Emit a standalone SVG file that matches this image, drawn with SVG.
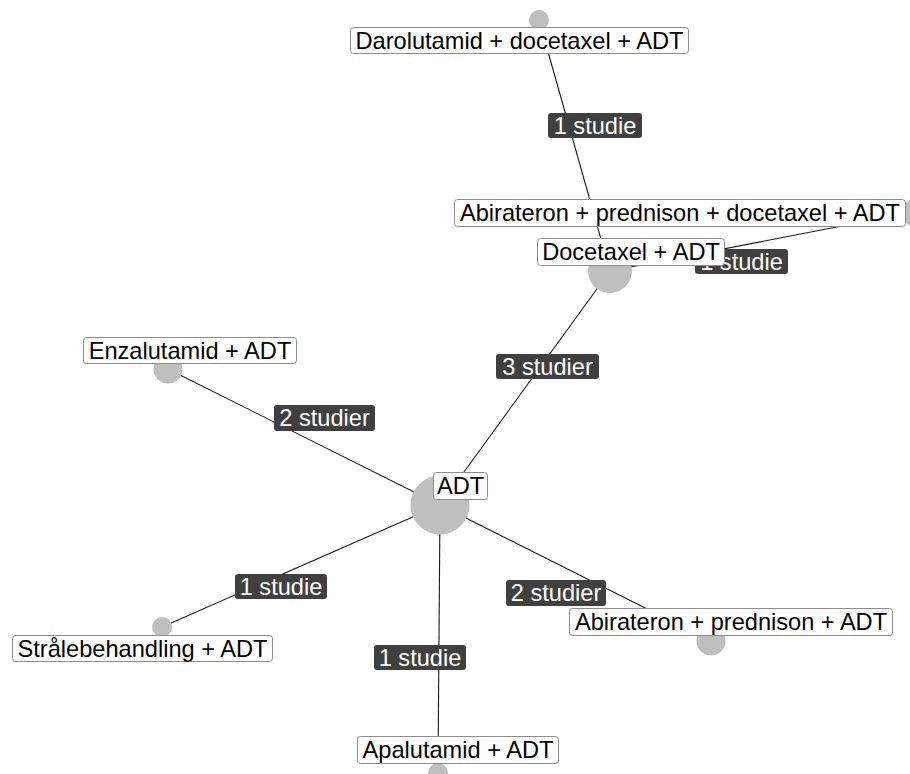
<svg xmlns="http://www.w3.org/2000/svg" width="910" height="774" viewBox="0 0 910 774">
<style>
  .edge { stroke: #1a1a1a; stroke-width: 1.1; fill: none; }
  .elbox { fill: #404040; }
  .eltext { fill: #ffffff; font-family: "Liberation Sans", Arial, sans-serif; font-size: 23.6px; text-anchor: middle; }
  .node { fill: #bfbfbf; }
  .nlbox { fill: #ffffff; stroke: #8c8c8c; stroke-width: 1; }
  .nltext { fill: #000000; font-family: "Liberation Sans", Arial, sans-serif; font-size: 23.6px; text-anchor: middle; }
</style>
<rect width="910" height="774" fill="#ffffff"/>
<g id="connectors">
  <line class="edge" x1="539" y1="20" x2="610" y2="271"/>
  <line class="edge" x1="610" y1="271" x2="914" y2="212"/>
  <line class="edge" x1="440" y1="505" x2="610" y2="271"/>
  <line class="edge" x1="440" y1="505" x2="168" y2="369"/>
  <line class="edge" x1="440" y1="505" x2="162" y2="627"/>
  <line class="edge" x1="440" y1="505" x2="438" y2="772"/>
  <line class="edge" x1="440" y1="505" x2="711" y2="641"/>
  <g id="el-daro-doc"><rect class="elbox" x="548" y="113" width="94" height="25" rx="3"/><text class="eltext" x="595" y="133.5">1 studie</text></g>
  <g id="el-doc-apd"><rect class="elbox" x="695" y="249" width="93" height="25" rx="3"/><text class="eltext" x="741.5" y="269.5">1 studie</text></g>
  <g id="el-adt-doc"><rect class="elbox" x="496" y="354" width="103" height="25" rx="3"/><text class="eltext" x="547.5" y="374.5">3 studier</text></g>
  <g id="el-adt-enza"><rect class="elbox" x="274" y="405" width="101" height="26" rx="3"/><text class="eltext" x="324.5" y="426">2 studier</text></g>
  <g id="el-adt-stral"><rect class="elbox" x="235" y="574" width="92" height="25" rx="3"/><text class="eltext" x="281" y="594.5">1 studie</text></g>
  <g id="el-adt-apal"><rect class="elbox" x="374" y="645" width="92" height="25" rx="3"/><text class="eltext" x="420" y="665.5">1 studie</text></g>
  <g id="el-adt-abipred"><rect class="elbox" x="506" y="580" width="100" height="26" rx="3"/><text class="eltext" x="556" y="601">2 studier</text></g>
</g>
<g id="node-darolutamid">
  <circle class="node" cx="539" cy="20" r="10"/>
  <rect class="nlbox" x="350.5" y="27.5" width="338" height="26" rx="3"/>
  <text class="nltext" x="519.5" y="48.5">Darolutamid + docetaxel + ADT</text>
</g>
<g id="node-abipreddoc">
  <circle class="node" cx="914" cy="213" r="13"/>
  <rect class="nlbox" x="454.5" y="199.5" width="451" height="27" rx="3"/>
  <text class="nltext" x="680" y="221">Abirateron + prednison + docetaxel + ADT</text>
</g>
<g id="node-docetaxel">
  <circle class="node" cx="610" cy="271" r="22"/>
  <rect class="nlbox" x="537.5" y="238.5" width="187" height="27" rx="3"/>
  <text class="nltext" x="631" y="260">Docetaxel + ADT</text>
</g>
<g id="node-enzalutamid">
  <circle class="node" cx="168" cy="369" r="14.5"/>
  <rect class="nlbox" x="83.5" y="337.5" width="213" height="26" rx="3"/>
  <text class="nltext" x="190" y="358.5">Enzalutamid + ADT</text>
</g>
<g id="node-adt">
  <circle class="node" cx="440" cy="505" r="29.5"/>
  <rect class="nlbox" x="433.5" y="472.5" width="54" height="27" rx="3"/>
  <text class="nltext" x="460.5" y="494">ADT</text>
</g>
<g id="node-stralebehandling">
  <circle class="node" cx="162" cy="627" r="10"/>
  <rect class="nlbox" x="12.5" y="635.5" width="260" height="26" rx="3"/>
  <text class="nltext" x="142.5" y="656.5">Strålebehandling + ADT</text>
</g>
<g id="node-abipred">
  <circle class="node" cx="711" cy="641" r="14.5"/>
  <rect class="nlbox" x="569.5" y="608.5" width="323" height="27" rx="3"/>
  <text class="nltext" x="731" y="630">Abirateron + prednison + ADT</text>
</g>
<g id="node-apalutamid">
  <circle class="node" cx="438" cy="773" r="10"/>
  <rect class="nlbox" x="357.5" y="736.5" width="201" height="27" rx="3"/>
  <text class="nltext" x="458" y="758">Apalutamid + ADT</text>
</g>
</svg>
